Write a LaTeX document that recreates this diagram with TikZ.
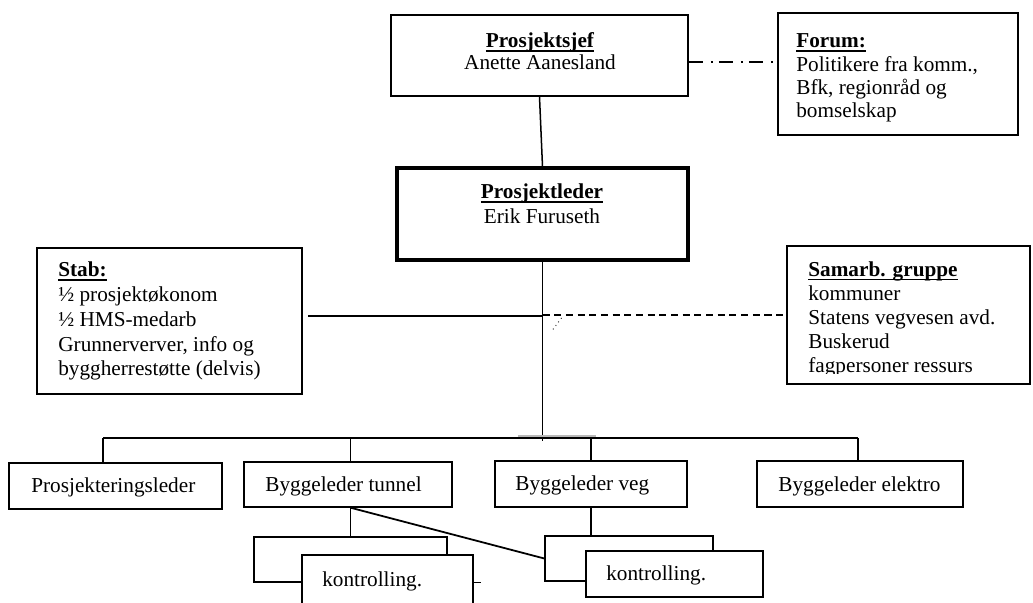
\documentclass[tikz,border=0pt]{standalone}
\usepackage{fontspec}
\setmainfont{Liberation Serif}
\usetikzlibrary{fit,calc}

% Bold title with a rule close under the baseline.
\newcommand{\headtitle}[1]{\setbox0=\hbox{\bfseries #1}\rlap{\copy0}\rule[-2.1pt]{\wd0}{0.8pt}}

\begin{document}
\begin{tikzpicture}[x=0.565pt, y=-0.565pt]

  \tikzset{
    box/.style={draw, line width=0.8pt, inner sep=0pt},
    frontbox/.style={box, fill=white},
    txt/.style={inner sep=0pt, font=\fontsize{12}{13.8}\selectfont},
    link/.style={draw, line width=0.85pt}
  }

  \useasboundingbox (0,0) rectangle (1033,603);

  % Place the project owner and the forum.
  \node [box, fit={(391,15) (688,96)}] (sjef) {};
  \node [txt, anchor=base] (sjef-title) at (540,48) {\headtitle{Prosjektsjef}};
  \node [txt, anchor=base] (sjef-name) at (540,70) {Anette Aanesland};

  % Multi-line texts are placed by the baseline of their last line.
  \node [box, line width=1pt, fit={(778,13) (1018,135)}] (forum) {};
  \node [txt, anchor=base west, align=left, font=\fontsize{12}{13.2}\selectfont] (forum-text) at (796,118)
    {\headtitle{Forum:}\\Politikere fra komm.,\\Bfk, regionråd og\\bomselskap};

  % Place the project leader.
  \node [box, line width=1.8pt, fit={(397,168) (688,260)}] (leder) {};
  \node [txt, anchor=base] (leder-title) at (542,199) {\headtitle{Prosjektleder}};
  \node [txt, anchor=base] (leder-name) at (542,224) {Erik Furuseth};

  % Place the staff and the cooperation group.
  \node [box, line width=1.1pt, fit={(37,248) (302,394)}] (stab) {};
  \node [txt, anchor=base west, align=left, font=\fontsize{12}{14}\selectfont] (stab-text) at (58,376)
    {\headtitle{Stab:}\\½ prosjektøkonom\\½ HMS-medarb\\Grunnerverver, info og\\byggherrestøtte (delvis)};

  \node [box, line width=1.1pt, fit={(787,246) (1030,384)}] (samarb) {};
  \begin{scope}
    \clip (787,246) rectangle (1031,373.5);
    \node [txt, anchor=base west, align=left, font=\fontsize{12}{13.6}\selectfont] (samarb-text) at (808,373)
      {\headtitle{Samarb. gruppe}\\kommuner\\Statens vegvesen avd.\\Buskerud\\fagpersoner ressurs};
  \end{scope}

  % Place the four leaders below.
  \node [box, fit={(9,463) (222,509)}] (prosj) {};
  \node [txt, anchor=base west] (prosj-text) at (31,493) {Prosjekteringsleder};

  \node [box, fit={(244,462) (452,507)}] (tunnel) {};
  \node [txt, anchor=base west] (tunnel-text) at (265,492) {Byggeleder tunnel};

  \node [box, fit={(495,461) (687,507)}] (veg) {};
  \node [txt, anchor=base west] (veg-text) at (515,491) {Byggeleder veg};

  \node [box, fit={(757,461) (963,507)}] (elektro) {};
  \node [txt, anchor=base west] (elektro-text) at (778,492) {Byggeleder elektro};

  % Place the boxes behind the control boxes.
  \node [box, fit={(254,537) (447,582)}] (tunnel-back) {};
  \node [box, fit={(545,536) (713,581)}] (veg-back) {};

  % Connect the top of the chart.
  \coordinate (forum-link) at (0,62);
  \coordinate (stab-link) at (308,316);
  \coordinate (bus-stop) at (0,441);
  \coordinate (bus-west) at (103,438);
  \coordinate (bus-east) at (858,438);

  \draw [link] (sjef.south) -- (leder.north);
  \draw [link, dash pattern=on 8pt off 4.5pt on 1pt off 3.5pt] (sjef.east |- forum-link) -- (forum.west |- forum-link);

  \draw [link] (leder.south) -- (leder.south |- bus-stop);
  \draw [link] (stab-link) -- (stab-link -| leder.south);
  \draw [link, dash pattern=on 4pt off 2.6pt] (samarb.west -| leder.south) -- (samarb.west);
  \draw [line width=0.5pt, dotted] ($(samarb.west -| leder.south)+(19,3)$) -- ++(-9,12);

  % Connect the four leaders.
  \draw [link] (bus-west) -- (bus-east);
  \draw [gray!55, line width=1pt] ($(bus-west)+(415,-2)$) -- ++(78,0);
  \draw [link] (bus-west) -- (bus-west |- prosj.north);
  \draw [link] (tunnel-back.north |- bus-west) -- (tunnel-back.north |- tunnel.north);
  \draw [link] (veg.north |- bus-west) -- (veg.north);
  \draw [link] (bus-east) -- (bus-east |- elektro.north);

  % Connect the control boxes.
  \draw [link] (tunnel-back.north |- tunnel.south) -- (tunnel-back.north);
  \draw [link, line width=1pt] (tunnel-back.north |- tunnel.south) -- (veg-back.west);
  \draw [link] (veg.south) -- (veg.south |- veg-back.north);

  % Place the control boxes in front.
  \node [frontbox, fit={(302,555) (473,615)}] (tunnel-front) {};
  \node [txt, anchor=base west] (tunnel-front-text) at (322,587) {kontrolling.};
  \draw [link] (tunnel-front.east |- tunnel-back.south) -- ++(7,0);

  \node [frontbox, fit={(586,551) (763,597)}] (veg-front) {};
  \node [txt, anchor=base west] (veg-front-text) at (606,581) {kontrolling.};

\end{tikzpicture}
\end{document}
